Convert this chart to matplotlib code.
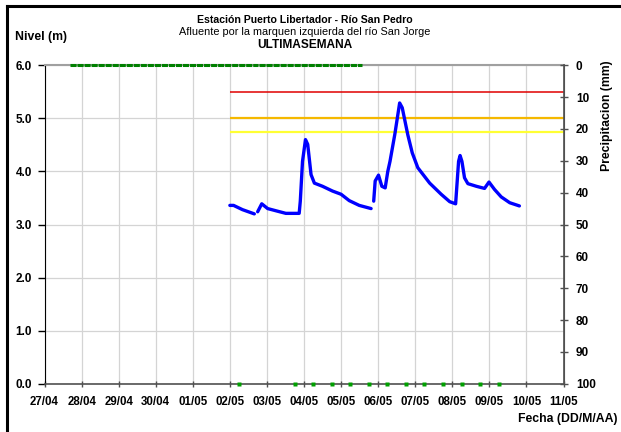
import matplotlib
matplotlib.use('Agg')
import matplotlib.pyplot as plt
from matplotlib.lines import Line2D

plt.rcParams['font.family'] = ['Liberation Sans', 'DejaVu Sans']
NARROW = ['Liberation Sans Narrow', 'Liberation Sans', 'DejaVu Sans']

# days counted from 27/04 00:00
fechas = ['27/04', '28/04', '29/04', '30/04', '01/05', '02/05', '03/05', '04/05',
          '05/05', '06/05', '07/05', '08/05', '09/05', '10/05', '11/05']

# nivel (m) - blue curve, None = gap
nivel_dias = [5.00, 5.10, 5.34, 5.66, None,
              5.75, 5.86, 6.02, 6.29, 6.51, 6.87, 6.90, 6.96, 7.04, 7.10, 7.19, 7.28,
              7.50, 7.77, 8.00, 8.22, 8.49, 8.81, None,
              8.88, 8.92, 9.01, 9.10, 9.19, 9.26, 9.32, 9.45, 9.58, 9.65, 9.80, 9.92,
              10.07, 10.39, 10.70, 10.93, 11.09, 11.12, 11.17, 11.21, 11.26, 11.33,
              11.42, 11.65, 11.87, 11.99, 12.14, 12.32, 12.55, 12.81]
nivel_m = [3.36, 3.36, 3.28, 3.20, None,
           3.24, 3.39, 3.30, 3.25, 3.21, 3.21, 3.44, 4.19, 4.60, 4.51, 3.94, 3.78,
           3.72, 3.63, 3.57, 3.45, 3.36, 3.30, None,
           3.44, 3.82, 3.93, 3.72, 3.69, 4.00, 4.19, 4.70, 5.29, 5.20, 4.69, 4.35,
           4.07, 3.78, 3.57, 3.43, 3.39, 3.69, 4.19, 4.30, 4.19, 3.88,
           3.77, 3.72, 3.68, 3.80, 3.66, 3.52, 3.41, 3.35]

# alert levels (m)
alerta_roja = 5.5
alerta_naranja = 5.0
alerta_amarilla = 4.75
alerta_inicio = 5.0

# precipitacion (mm)
prec_dias = [0.69, 5.75, None, 5.79, 8.56]
prec_mm = [0, 0, None, 0, 0]

# green marks at level 0
marcas_dias = [5.25, 6.75, 7.25, 7.75, 8.25, 8.75, 9.25, 9.75, 10.25, 10.75, 11.25, 11.75, 12.25]
marcas_nivel = [0] * len(marcas_dias)

W, H = 621, 432
fig = plt.figure(figsize=(W / 100, H / 100), dpi=100)
ax = fig.add_axes([44.5 / W, 1 - 383.7 / H, 519 / W, 318.4 / H])

nd = [float('nan') if v is None else v for v in nivel_dias]
nm = [float('nan') if v is None else v for v in nivel_m]
ax.plot(nd, nm, color='#0000FF', lw=2.4, solid_capstyle='round', zorder=5)

ax.hlines([alerta_roja], alerta_inicio, 14, color='#E00000', lw=1.1, zorder=4)
ax.hlines([alerta_naranja], alerta_inicio, 14, color='#F5B800', lw=1.6, zorder=4)
ax.hlines([alerta_amarilla], alerta_inicio, 14, color='#FFFF33', lw=1.6, zorder=4)

ax.set_xlim(0, 14)
ax.set_ylim(0, 6)
ax.set_xticks(range(15))
ax.set_xticklabels(fechas)
ax.set_yticks(range(7))
ax.set_yticklabels([f'{v:.1f}' for v in range(7)])
ax.grid(True, color='#D4D4D4', lw=0.9)
ax.set_axisbelow(True)

ax.spines['left'].set_color('black')
ax.spines['bottom'].set_color('#505050')
ax.spines['top'].set_color('#A0A0A0')
ax.spines['right'].set_color('#505050')
ax.spines['top'].set_linewidth(1.5)
ax.spines['bottom'].set_linewidth(1.2)
ax.tick_params(axis='y', direction='out', length=5, width=1, pad=4, labelsize=8.5)
ax.tick_params(axis='x', direction='inout', length=5, width=1, pad=6, labelsize=8.3,
               colors='#505050', labelcolor='black')
for lb in ax.get_yticklabels():
    lb.set_fontweight('bold')
for lb in ax.get_xticklabels():
    lb.set_fontweight('bold')
    lb.set_family(NARROW)

ax2 = ax.twinx()
pd_ = [float('nan') if v is None else v for v in prec_dias]
pm_ = [float('nan') if v is None else v for v in prec_mm]
ax2.plot(pd_, pm_, color='#008000', lw=2.2, ls=(0, (2, 0.3)), clip_on=False, zorder=6)
ax2.set_ylim(100, 0)
ax2.set_yticks(range(0, 101, 10))
ax2.tick_params(axis='y', direction='inout', length=6, width=1, pad=6, labelsize=8.5,
                colors='#505050', labelcolor='black')
for lb in ax2.get_yticklabels():
    lb.set_fontweight('bold')
for s in ax2.spines.values():
    s.set_visible(False)
ax2.spines['right'].set_visible(True)
ax2.spines['right'].set_color('#505050')
ax2.spines['right'].set_linewidth(1.2)

# green marks drawn on top of the bottom spine
ax2.plot(marcas_dias, [100] * len(marcas_nivel), ls='none', marker='s', ms=2.6,
         color='#00A000', mec='none', zorder=8, clip_on=False)

cx = 305 / W
fig.text(cx, 1 - 20 / H, 'Estación Puerto Libertador - Río San Pedro', ha='center', va='center',
         fontsize=7.6, fontweight='bold')
fig.text(cx, 1 - 32 / H, 'Afluente por la marquen izquierda del río San Jorge', ha='center',
         va='center', fontsize=7.8)
fig.text(cx, 1 - 45 / H, 'ULTIMASEMANA', ha='center', va='center', fontsize=8.6,
         fontweight='bold')
fig.text(15 / W, 1 - 37 / H, 'Nivel (m)', ha='left', va='center', fontsize=8.8,
         fontweight='bold')
fig.text(617 / W, 1 - 419 / H, 'Fecha (DD/M/AA)', ha='right', va='center', fontsize=8.8,
         fontweight='bold')
fig.text(607 / W, 1 - 116 / H, 'Precipitacion (mm)', ha='center', va='center', fontsize=8.8,
         fontweight='bold', rotation=90)

# outer frame (only left and top edges visible)
fig.add_artist(Line2D([7 / W, 7 / W], [0, 1 - 6 / H], color='black', lw=2.2))
fig.add_artist(Line2D([7 / W, 1], [1 - 6 / H, 1 - 6 / H], color='black', lw=2.2))

fig.savefig('out.png', dpi=100)
